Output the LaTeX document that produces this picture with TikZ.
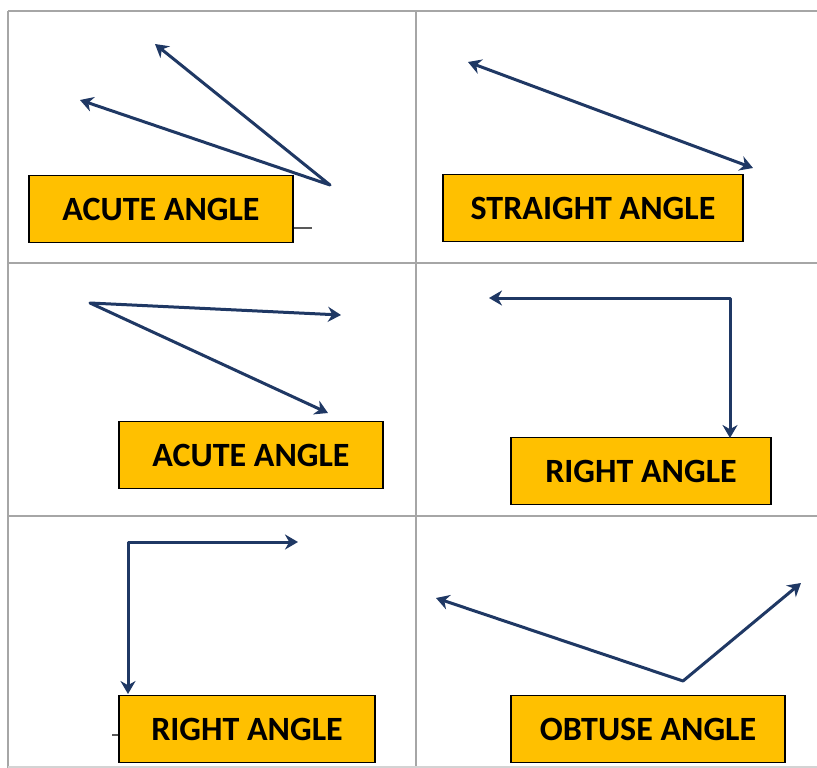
\documentclass[tikz,border=0pt]{standalone}
\usepackage{fontspec}
\setmainfont{Carlito}
\usetikzlibrary{arrows.meta}
\definecolor{boxgold}{HTML}{FFC000}
\definecolor{raynavy}{HTML}{1F3864}
\definecolor{gridgrey}{HTML}{A6A6A6}
\begin{document}
\begin{tikzpicture}[x=1pt,y=-1pt,
      anglebox/.style={draw=black,line width=1.5pt,fill=boxgold,
                  minimum width=#1,minimum height=67pt,inner sep=0pt,
                  font=\bfseries\fontsize{34}{34}\selectfont},
      ray/.style={raynavy,line width=3pt,line join=round,
                  {Stealth[length=13pt,width=15pt]}-{Stealth[length=13pt,width=15pt]}},
      cell/.style={gridgrey,line width=2pt}
    ]
    \useasboundingbox[fill=white] (0,0) rectangle (817,768);
    % Grid of six cells
    \draw[cell] (8,11) -- (817,11);
    \draw[cell] (8,11) -- (8,768);
    \draw[cell] (416,11) -- (416,768);
    \draw[cell] (8,263) -- (817,263);
    \draw[cell] (8,516) -- (817,516);
    \draw[cell,gridgrey!50] (8,767) -- (817,767);
    % Small ticks
    \draw[black!65,line width=1.5pt] (293,228) -- (312,228);
    \draw[black!65,line width=1.5pt] (112,735) -- (120,735);
    % Labels
    \node[anglebox=264pt] (acuteA)   at (161,209) {ACUTE ANGLE};
    \node[anglebox=300pt] (straight) at (593,208) {STRAIGHT ANGLE};
    \node[anglebox=264pt] (acuteB)   at (251,455) {ACUTE ANGLE};
    \node[anglebox=260pt] (rightA)   at (641,471) {RIGHT ANGLE};
    \node[anglebox=256pt] (rightB)   at (247,729) {RIGHT ANGLE};
    \node[anglebox=274pt] (obtuse)   at (648,729) {OBTUSE ANGLE};
    % Vertices and ray ends
    \coordinate (acuteAv)  at (330,185);
    \coordinate (acuteAp)  at (155,44);
    \coordinate (acuteAq)  at (80,100);
    \coordinate (straightp) at (468,62);
    \coordinate (straightq) at (753,168);
    \coordinate (acuteBv)  at (90,303);
    \coordinate (acuteBp)  at (341,315);
    \coordinate (acuteBq)  at (328,413);
    \coordinate (rightAv)  at (730,298);
    \coordinate (rightAp)  at (489,298);
    \coordinate (rightAq)  at (730,438);
    \coordinate (rightBv)  at (128,542);
    \coordinate (rightBp)  at (298,542);
    \coordinate (rightBq)  at (128,694);
    \coordinate (obtusev)  at (683,681);
    \coordinate (obtusep)  at (436,598);
    \coordinate (obtuseq)  at (801,583);
    % Rays
    \draw[ray] (acuteAp) -- (acuteAv) -- (acuteAq);
    \draw[ray] (straightp) -- (straightq);
    \draw[ray] (acuteBp) -- (acuteBv) -- (acuteBq);
    \draw[ray] (rightAp) -- (rightAv) -- (rightAq);
    \draw[ray] (rightBp) -- (rightBv) -- (rightBq);
    \draw[ray] (obtusep) -- (obtusev) -- (obtuseq);
  \end{tikzpicture}
\end{document}
